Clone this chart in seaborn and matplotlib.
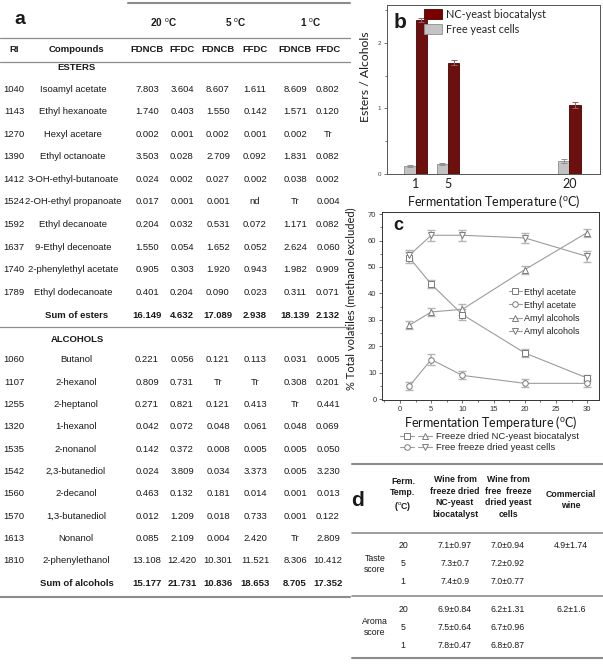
import numpy as np
import pandas as pd
import matplotlib
matplotlib.use("Agg")
import matplotlib.pyplot as plt
import seaborn as sns
from matplotlib.lines import Line2D
from matplotlib.patches import Patch
from matplotlib.legend_handler import HandlerTuple
from matplotlib.ticker import MultipleLocator

W, H = 603, 666

# ---------------- panel a data ----------------
temps_a = ["20", "5", "1"]
ester_ri = ["1040", "1143", "1270", "1390", "1412", "1524", "1592", "1637", "1740", "1789"]
ester_names = ["Isoamyl acetate", "Ethyl hexanoate", "Hexyl acetare", "Ethyl octanoate",
               "3-OH-ethyl-butanoate", "2-OH-ethyl propanoate", "Ethyl decanoate",
               "9-Ethyl decenoate", "2-phenylethyl acetate", "Ethyl dodecanoate"]
ester_20_fdncb = ["7.803", "1.740", "0.002", "3.503", "0.024", "0.017", "0.204", "1.550", "0.905", "0.401"]
ester_20_ffdc = ["3.604", "0.403", "0.001", "0.028", "0.002", "0.001", "0.032", "0.054", "0.303", "0.204"]
ester_5_fdncb = ["8.607", "1.550", "0.002", "2.709", "0.027", "0.001", "0.531", "1.652", "1.920", "0.090"]
ester_5_ffdc = ["1.611", "0.142", "0.001", "0.092", "0.002", "nd", "0.072", "0.052", "0.943", "0.023"]
ester_1_fdncb = ["8.609", "1.571", "0.002", "1.831", "0.038", "Tr", "1.171", "2.624", "1.982", "0.311"]
ester_1_ffdc = ["0.802", "0.120", "Tr", "0.082", "0.002", "0.004", "0.082", "0.060", "0.909", "0.071"]
ester_sums = ["16.149", "4.632", "17.089", "2.938", "18.139", "2.132"]

alc_ri = ["1060", "1107", "1255", "1320", "1535", "1542", "1560", "1570", "1613", "1810"]
alc_names = ["Butanol", "2-hexanol", "2-heptanol", "1-hexanol", "2-nonanol", "2,3-butanediol",
             "2-decanol", "1,3-butanediol", "Nonanol", "2-phenylethanol"]
alc_20_fdncb = ["0.221", "0.809", "0.271", "0.042", "0.142", "0.024", "0.463", "0.012", "0.085", "13.108"]
alc_20_ffdc = ["0.056", "0.731", "0.821", "0.072", "0.372", "3.809", "0.132", "1.209", "2.109", "12.420"]
alc_5_fdncb = ["0.121", "Tr", "0.121", "0.048", "0.008", "0.034", "0.181", "0.018", "0.004", "10.301"]
alc_5_ffdc = ["0.113", "Tr", "0.413", "0.061", "0.005", "3.373", "0.014", "0.733", "2.420", "11.521"]
alc_1_fdncb = ["0.031", "0.308", "Tr", "0.048", "0.005", "0.005", "0.001", "0.001", "Tr", "8.306"]
alc_1_ffdc = ["0.005", "0.201", "0.441", "0.069", "0.050", "3.230", "0.013", "0.122", "2.809", "10.412"]
alc_sums = ["15.177", "21.731", "10.836", "18.653", "8.705", "17.352"]

# ---------------- panel b data ----------------
temps_b = [1, 5, 20]
nc_ratio = [2.35, 1.70, 1.05]
nc_ratio_err = [0.03, 0.04, 0.05]
free_ratio = [0.12, 0.15, 0.20]
free_ratio_err = [0.02, 0.02, 0.03]

# ---------------- panel c data ----------------
temps_c = [1.5, 5, 10, 20, 30]
nc_ethyl = [53.5, 43.5, 32.0, 17.5, 8.0]
nc_ethyl_err = [2.0, 1.5, 2.0, 1.5, 1.0]
free_ethyl = [5.0, 15.0, 9.0, 6.0, 6.0]
free_ethyl_err = [1.5, 2.0, 1.5, 1.5, 1.5]
nc_amyl = [28.0, 33.0, 34.0, 49.0, 63.0]
nc_amyl_err = [1.5, 1.5, 2.0, 1.5, 1.5]
free_amyl = [54.5, 62.0, 62.0, 61.0, 54.0]
free_amyl_err = [2.0, 2.0, 2.0, 2.0, 2.0]

# ---------------- panel d data ----------------
temps_d = ["20", "5", "1"]
taste_nc_mean = [7.1, 7.3, 7.4]
taste_nc_sd = [0.97, 0.7, 0.9]
taste_free_mean = [7.0, 7.2, 7.0]
taste_free_sd = [0.94, 0.92, 0.77]
taste_comm = "4.9±1.74"
aroma_nc_mean = [6.9, 7.5, 7.8]
aroma_nc_sd = [0.84, 0.64, 0.47]
aroma_free_mean = [6.2, 6.7, 6.8]
aroma_free_sd = [1.31, 0.96, 0.87]
aroma_comm = "6.2±1.6"

# ---------------- style ----------------
sns.set_theme(style="ticks")
plt.rcParams['font.family'] = ['Liberation Sans', 'DejaVu Sans']
plt.rcParams['mathtext.fontset'] = 'custom'
plt.rcParams['mathtext.rm'] = 'Liberation Sans'
plt.rcParams['mathtext.bf'] = 'Liberation Sans:bold'
DEG = r"$^{\mathrm{o}}$C"
TXT = "#1a1a1a"
RULE = "#8c8c8c"

fig = plt.figure(figsize=(W / 100, H / 100), dpi=100)


def fx(x):
    return x / W


def fy(y):
    return 1 - y / H


def put(x, y, s, size=6.8, weight="normal", ha="center", va="center", **kw):
    fig.text(fx(x), fy(y), s, fontsize=size, fontweight=weight, ha=ha, va=va, color=TXT, **kw)


def hline(x0, x1, y, lw=0.9, color=RULE):
    fig.add_artist(Line2D([fx(x0), fx(x1)], [fy(y), fy(y)], transform=fig.transFigure,
                          lw=lw, color=color))


# ================= panel a (table) =================
col_x = [147, 182, 218, 255, 295, 328]
RI_X, NAME_X = 14, 73
hline(128, 350, 3, lw=1.5)
put(20, 19, "a", size=14, weight="bold")
for t, cx in zip(temps_a, [164, 236, 311]):
    put(cx, 23, t + " " + DEG, size=7.2, weight="bold")
hline(0, 350, 38)
put(RI_X, 50, "RI", size=6.8, weight="bold")
put(NAME_X + 3, 50, "Compounds", size=6.8, weight="bold")
for i, cx in enumerate(col_x):
    put(cx, 50, "FDNCB" if i % 2 == 0 else "FFDC", size=6.8, weight="bold")
hline(0, 350, 62)

put(NAME_X + 4, 68, "ESTERS", size=6.8, weight="bold")
ester_cols = [ester_20_fdncb, ester_20_ffdc, ester_5_fdncb, ester_5_ffdc, ester_1_fdncb, ester_1_ffdc]
y0, dy = 89, 22.6
for r in range(len(ester_ri)):
    y = y0 + r * dy
    put(RI_X, y, ester_ri[r])
    put(NAME_X, y, ester_names[r])
    for cx, col in zip(col_x, ester_cols):
        put(cx, y, col[r])
ys = y0 + len(ester_ri) * dy
put(NAME_X + 4, ys, "Sum of esters", weight="bold")
for cx, s in zip(col_x, ester_sums):
    put(cx, ys, s, weight="bold")
hline(0, 350, 327)

put(NAME_X + 4, 339, "ALCOHOLS", size=6.8, weight="bold")
alc_cols = [alc_20_fdncb, alc_20_ffdc, alc_5_fdncb, alc_5_ffdc, alc_1_fdncb, alc_1_ffdc]
y0, dy = 360, 22.3
for r in range(len(alc_ri)):
    y = y0 + r * dy
    put(RI_X, y, alc_ri[r])
    put(NAME_X + 3, y, alc_names[r])
    for cx, col in zip(col_x, alc_cols):
        put(cx, y, col[r])
ys = y0 + len(alc_ri) * dy
put(NAME_X + 4, ys, "Sum of alcohols", weight="bold")
for cx, s in zip(col_x, alc_sums):
    put(cx, ys, s, weight="bold")
hline(0, 350, 597, lw=1.5)

# ================= panel b (bars) =================
RED = "#7a0000"
GRAY = "#c3c3c3"
axb = fig.add_axes([fx(387), fy(174), 213 / W, 169 / H])
dfb = pd.DataFrame({
    "temp": temps_b + temps_b,
    "cells": ["Free yeast cells"] * 3 + ["NC-yeast biocatalyst"] * 3,
    "ratio": free_ratio + nc_ratio,
})
sns.barplot(data=dfb, x="temp", y="ratio", hue="cells",
            hue_order=["Free yeast cells", "NC-yeast biocatalyst"],
            palette=[GRAY, RED], native_scale=True, width=0.7, errorbar=None,
            legend=False, linewidth=0.6, ax=axb)
err_lookup = {v: e for v, e in zip(free_ratio + nc_ratio, free_ratio_err + nc_ratio_err)}
for p in axb.patches:
    h = p.get_height()
    is_red = h in nc_ratio
    p.set_edgecolor("#4a0000" if is_red else "#8e8e8e")
    e = err_lookup.get(h, 0)
    axb.errorbar(p.get_x() + p.get_width() / 2, h, yerr=e, fmt="none",
                 ecolor="#9a6060" if is_red else "#8e8e8e", elinewidth=0.7, capsize=2.5,
                 capthick=0.7)
axb.set_xlim(-2.56, 23.8)
axb.set_ylim(0, 2.58)
axb.set_xticks(temps_b)
axb.set_xticklabels([str(t) for t in temps_b], fontsize=9, family="Lato")
axb.set_yticks([0, 1, 2])
axb.yaxis.set_minor_locator(MultipleLocator(0.5))
axb.tick_params(axis="y", which="major", labelsize=4.5, length=2.5, width=0.5, pad=1.5, colors="#444")
axb.tick_params(axis="y", which="minor", length=1.5, width=0.5, colors="#444")
axb.tick_params(axis="x", length=0, pad=3, labelcolor=TXT)
for s in axb.spines.values():
    s.set_visible(True)
    s.set_linewidth(0.7)
    s.set_color("#555555")
axb.set_xlabel("Fermentation Temperature (" + DEG + ")", fontsize=9, family="Lato", labelpad=2, color=TXT)
axb.set_ylabel("Esters / Alcohols", fontsize=8.8, family="Lato", color=TXT)
axb.yaxis.set_label_coords(-0.075, 0.574)
axb.legend(handles=[Patch(facecolor=RED, edgecolor="#4a0000", lw=0.6),
                    Patch(facecolor=GRAY, edgecolor="#8e8e8e", lw=0.6)],
           labels=["NC-yeast biocatalyst", "Free yeast cells"],
           loc="upper left", bbox_to_anchor=(0.17, 0.985), frameon=False,
           prop={"family": "Lato", "size": 7.8}, handlelength=1.6, handleheight=1.0,
           labelspacing=0.4, handletextpad=0.4, borderaxespad=0, borderpad=0.1)
put(400, 22, "b", size=15, weight="bold")

# ================= panel c (lines) =================
axc = fig.add_axes([fx(382), fy(400), 217 / W, 188 / H])
series_keys = ["nc_ethyl", "free_ethyl", "nc_amyl", "free_amyl"]
series_vals = [nc_ethyl, free_ethyl, nc_amyl, free_amyl]
series_errs = [nc_ethyl_err, free_ethyl_err, nc_amyl_err, free_amyl_err]
series_labels = ["Ethyl acetate", "Ethyl acetate", "Amyl alcohols", "Amyl alcohols"]
dfc = pd.DataFrame({
    "temp": temps_c * 4,
    "pct": sum(series_vals, []),
    "series": sum([[k] * len(temps_c) for k in series_keys], []),
})
LINE = "#9c9c9c"
sns.lineplot(data=dfc, x="temp", y="pct", hue="series", style="series",
             hue_order=series_keys, style_order=series_keys,
             palette=[LINE] * 4, markers=["s", "o", "^", "v"], dashes=False,
             markersize=4, markerfacecolor="white", markeredgecolor="#7a7a7a",
             markeredgewidth=0.7, linewidth=0.8, legend=False, ax=axc)
series_lines = list(axc.lines)[:4]
for vals, errs in zip(series_vals, series_errs):
    axc.errorbar(temps_c, vals, yerr=errs, fmt="none", ecolor="#b5b5b5",
                 elinewidth=1.1, capsize=3, capthick=1.0, zorder=1)
axc.set_xlim(-2.9, 31.9)
axc.set_ylim(-0.3, 70.8)
axc.set_xticks(range(0, 31, 5))
axc.set_yticks(range(0, 71, 10))
axc.xaxis.set_minor_locator(MultipleLocator(2.5))
axc.yaxis.set_minor_locator(MultipleLocator(5))
axc.tick_params(which="major", labelsize=5.5, length=2.5, width=0.5, pad=1.5, colors="#333")
axc.tick_params(which="minor", length=1.5, width=0.5, colors="#333")
for s in axc.spines.values():
    s.set_visible(True)
    s.set_linewidth(0.7)
    s.set_color("#333333")
axc.set_xlabel("Fermentation Temperature (" + DEG + ")", fontsize=9, family="Lato", labelpad=1, color=TXT)
axc.set_ylabel("% Total volatiles (methanol excluded)", fontsize=8, family="Lato", color=TXT)
axc.yaxis.set_label_coords(-0.12, 0.54)
axc.legend(series_lines, series_labels, loc="center left", bbox_to_anchor=(0.585, 0.47),
           frameon=False, fontsize=6.5, labelspacing=0.45, handlelength=1.4,
           handletextpad=0.3, borderaxespad=0, borderpad=0)
put(398, 226, "c", size=13, weight="bold")

fig.legend([(series_lines[0], series_lines[2]), (series_lines[1], series_lines[3])],
           ["Freeze dried NC-yeast biocatalyst", "Free freeze dried yeast cells"],
           handler_map={tuple: HandlerTuple(ndivide=None, pad=0.4)},
           loc="upper left", bbox_to_anchor=(fx(400), fy(432)), frameon=False,
           fontsize=6.8, handlelength=3.4, labelspacing=0.25, handletextpad=0.4,
           borderaxespad=0, borderpad=0)

# ================= panel d (table) =================
hline(352, 603, 464, lw=1.5)
put(358, 500, "d", size=15, weight="bold")
DS = 6.3
put(403, 495, "Ferm.\nTemp.\n(" + DEG + ")", size=DS, weight="bold", linespacing=1.35)
put(455, 497, "Wine from\nfreeze dried\nNC-yeast\nbiocatalyst", size=DS, weight="bold", linespacing=1.35)
put(508, 497, "Wine from\nfree  freeze\ndried yeast\ncells", size=DS, weight="bold", linespacing=1.35)
put(571, 500, "Commercial\nwine", size=DS, weight="bold", linespacing=1.35)
hline(352, 603, 533, lw=1.2)

row_dy = 18
for block, (label, nc_m, nc_s, fr_m, fr_s, comm, ytop) in enumerate([
        ("Taste\nscore", taste_nc_mean, taste_nc_sd, taste_free_mean, taste_free_sd, taste_comm, 546),
        ("Aroma\nscore", aroma_nc_mean, aroma_nc_sd, aroma_free_mean, aroma_free_sd, aroma_comm, 609)]):
    put(375, ytop + row_dy, label, size=DS, linespacing=1.2)
    for r in range(3):
        y = ytop + r * row_dy
        put(403, y, temps_d[r], size=DS)
        put(455, y, f"{nc_m[r]}±{nc_s[r]}", size=DS)
        put(508, y, f"{fr_m[r]}±{fr_s[r]}", size=DS)
        if r == 0:
            put(571, y, comm, size=DS)
hline(352, 603, 596, lw=1.2)
hline(352, 603, 658, lw=1.5)

fig.savefig("out.png", dpi=100)
